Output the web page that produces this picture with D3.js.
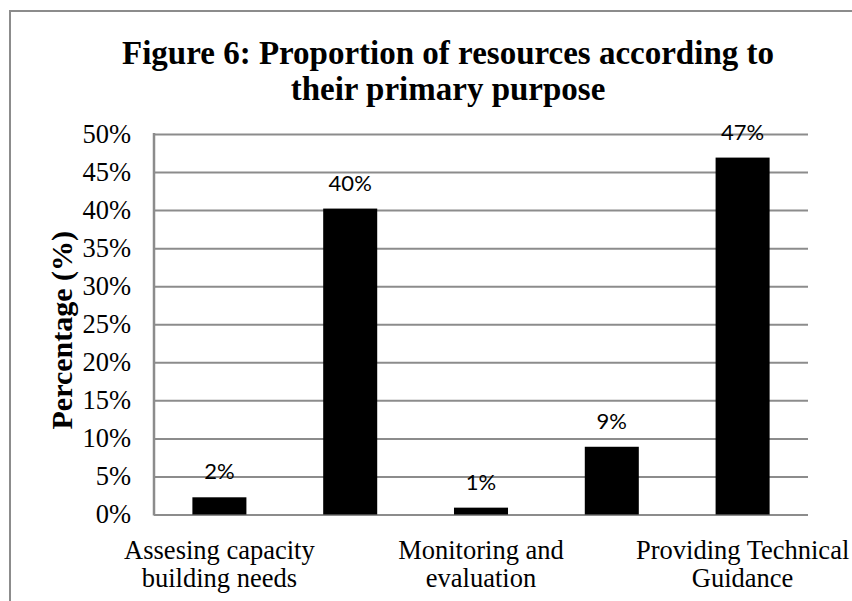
<!DOCTYPE html>
<html>
<head>
<meta charset="utf-8">
<script src="https://cdn.jsdelivr.net/npm/d3@7"></script>
<style>
  html, body { margin: 0; padding: 0; background: #fff; }
  svg { display: block; }
</style>
</head>
<body>
<script>
// Resource categories (every other one is labelled on the axis)
const categories = [
  "Assesing capacity building needs",
  "Delivering capacity building",
  "Monitoring and evaluation",
  "Other",
  "Providing Technical Guidance"
];
// Share of resources per primary purpose
const shares = [0.0226, 0.402, 0.009, 0.089, 0.469];
// Value axis ticks
const yTicks = [0, 0.05, 0.10, 0.15, 0.20, 0.25, 0.30, 0.35, 0.40, 0.45, 0.50];
const titleLines = ["Figure 6: Proportion of resources according to", "their primary purpose"];
const yTitle = "Percentage (%)";

const W = 852, H = 601;
const plot = { left: 154, right: 808, top: 134, bottom: 514.5 };
const gridColor = "#8c8c8c";
const serif = "'Liberation Serif', 'Times New Roman', serif";

const svg = d3.select("body").append("svg")
  .attr("width", W).attr("height", H);

// Outer chart frame, running past the right and bottom edges
svg.append("rect")
  .attr("x", 10).attr("y", 11)
  .attr("width", W + 20).attr("height", H + 20)
  .attr("fill", "#fff").attr("stroke", gridColor).attr("stroke-width", 2);

const x = d3.scaleBand()
  .domain(categories)
  .range([plot.left, plot.right])
  .paddingInner(0.587)
  .paddingOuter(0.2935);

const y = d3.scaleLinear()
  .domain([0, 0.5])
  .range([plot.bottom, plot.top]);

const pct = d3.format(".0%");

// Y axis with gridlines
const yAxis = svg.append("g")
  .attr("transform", `translate(${plot.left},0)`)
  .call(d3.axisLeft(y)
    .tickValues(yTicks)
    .tickFormat(pct)
    .tickSize(-(plot.right - plot.left))
    .tickPadding(23));
yAxis.select(".domain").remove();
yAxis.selectAll(".tick line")
  .attr("stroke", gridColor).attr("stroke-width", 2);
yAxis.selectAll(".tick text")
  .attr("font-family", serif).attr("font-size", 26.5).attr("fill", "#000");

// Vertical axis line
svg.append("line")
  .attr("x1", plot.left).attr("x2", plot.left)
  .attr("y1", y(0.5) - 1).attr("y2", y(0) + 1)
  .attr("stroke", gridColor).attr("stroke-width", 2.5);

// Bars
svg.append("g").selectAll("rect")
  .data(categories)
  .join("rect")
  .attr("x", d => x(d))
  .attr("width", x.bandwidth())
  .attr("y", (d, i) => y(shares[i]))
  .attr("height", (d, i) => y(0) - y(shares[i]))
  .attr("fill", "#000");

// Value labels
svg.append("g").selectAll("text")
  .data(categories)
  .join("text")
  .attr("x", d => x(d) + x.bandwidth() / 2)
  .attr("y", (d, i) => y(shares[i]) - 18)
  .attr("text-anchor", "middle")
  .attr("font-family", "Lato, 'Open Sans', sans-serif")
  .attr("font-size", 22)
  .attr("fill", "#000")
  .text((d, i) => pct(shares[i]));

// Category axis: every other label, wrapped into lines
const xAxis = svg.append("g")
  .attr("transform", `translate(0,${plot.bottom})`)
  .call(d3.axisBottom(x)
    .tickValues(categories.filter((d, i) => i % 2 === 0))
    .tickSize(0)
    .tickPadding(0));
xAxis.select(".domain").remove();
const wrapWidth = 232;
xAxis.selectAll(".tick text")
  .attr("font-family", serif).attr("font-size", 26.5).attr("fill", "#000")
  .attr("dy", null)
  .each(function (d) {
    const t = d3.select(this);
    const words = d.split(" ");
    t.text(null);
    let lineNo = 0;
    let line = [];
    let tspan = t.append("tspan").attr("x", 0).attr("y", 44);
    words.forEach(w => {
      line.push(w);
      tspan.text(line.join(" "));
      if (tspan.node().getComputedTextLength() > wrapWidth && line.length > 1) {
        line.pop();
        tspan.text(line.join(" "));
        line = [w];
        lineNo++;
        tspan = t.append("tspan").attr("x", 0).attr("y", 44 + lineNo * 28).text(w);
      }
    });
  });

// Y axis title
svg.append("text")
  .attr("transform", `translate(72,${(plot.top + plot.bottom) / 2 + 6}) rotate(-90)`)
  .attr("text-anchor", "middle")
  .attr("font-family", serif).attr("font-weight", "bold").attr("font-size", 30)
  .attr("fill", "#000")
  .text(yTitle);

// Chart title
svg.append("g").selectAll("text")
  .data(titleLines)
  .join("text")
  .attr("x", 448)
  .attr("y", (d, i) => 64 + i * 36)
  .attr("text-anchor", "middle")
  .attr("font-family", serif).attr("font-weight", "bold").attr("font-size", 33)
  .attr("fill", "#000")
  .text(d => d);
</script>
</body>
</html>
